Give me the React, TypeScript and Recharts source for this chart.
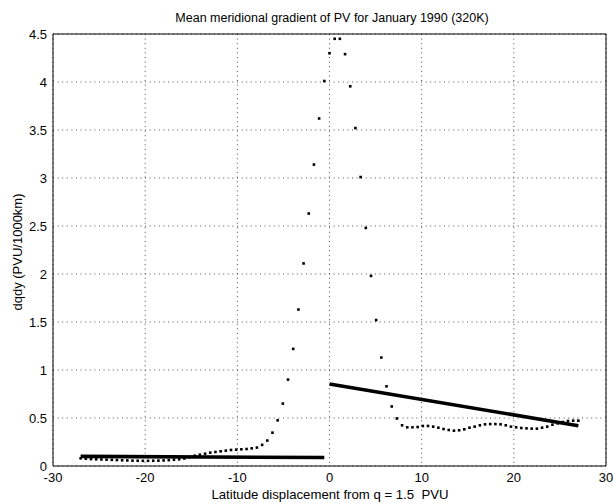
import React from 'react';
import { ScatterChart, Scatter, XAxis, YAxis, CartesianGrid } from 'recharts';

// Latitude grid (deg) and mean dq/dy (PVU/1000km) dotted series
const latitudes: number[] = [
  -27, -26.4375, -25.875, -25.3125, -24.75, -24.1875, -23.625, -23.0625, -22.5, -21.9375,
  -21.375, -20.8125, -20.25, -19.6875, -19.125, -18.5625, -18, -17.4375, -16.875, -16.3125,
  -15.75, -15.1875, -14.625, -14.0625, -13.5, -12.9375, -12.375, -11.8125, -11.25, -10.6875,
  -10.125, -9.5625, -9, -8.4375, -7.875, -7.3125, -6.75, -6.1875, -5.625, -5.0625,
  -4.5, -3.9375, -3.375, -2.8125, -2.25, -1.6875, -1.125, -0.5625, 0, 0.5625,
  1.125, 1.6875, 2.25, 2.8125, 3.375, 3.9375, 4.5, 5.0625, 5.625, 6.1875,
  6.75, 7.3125, 7.875, 8.4375, 9, 9.5625, 10.125, 10.6875, 11.25, 11.8125,
  12.375, 12.9375, 13.5, 14.0625, 14.625, 15.1875, 15.75, 16.3125, 16.875, 17.4375,
  18, 18.5625, 19.125, 19.6875, 20.25, 20.8125, 21.375, 21.9375, 22.5, 23.0625,
  23.625, 24.1875, 24.75, 25.3125, 25.875, 26.4375, 27,
];
const dqdy: number[] = [
  0.080, 0.076, 0.072, 0.070, 0.068, 0.066, 0.064, 0.062, 0.060, 0.058,
  0.056, 0.055, 0.054, 0.054, 0.055, 0.056, 0.058, 0.061, 0.065, 0.070,
  0.078, 0.092, 0.107, 0.118, 0.128, 0.139, 0.146, 0.153, 0.160, 0.167,
  0.170, 0.174, 0.177, 0.184, 0.192, 0.220, 0.265, 0.347, 0.476, 0.650,
  0.900, 1.220, 1.630, 2.110, 2.630, 3.140, 3.620, 4.010, 4.300, 4.450,
  4.450, 4.290, 3.955, 3.520, 3.010, 2.480, 1.980, 1.520, 1.130, 0.830,
  0.620, 0.495, 0.424, 0.403, 0.403, 0.406, 0.417, 0.417, 0.410, 0.399,
  0.385, 0.375, 0.368, 0.372, 0.382, 0.399, 0.410, 0.424, 0.434, 0.437,
  0.437, 0.434, 0.424, 0.410, 0.403, 0.396, 0.392, 0.389, 0.389, 0.399,
  0.410, 0.430, 0.444, 0.458, 0.469, 0.472, 0.472,
];

// Fitted solid lines: equatorward (left) and poleward (right) segments
const leftFitX: number[] = [-27, -0.5625];
const leftFitY: number[] = [0.1, 0.088];
const rightFitX: number[] = [0, 27];
const rightFitY: number[] = [0.855, 0.42];

const xTicks: number[] = [-30, -20, -10, 0, 10, 20, 30];
const yTicks: number[] = [0, 0.5, 1, 1.5, 2, 2.5, 3, 3.5, 4, 4.5];

const titleText = 'Mean meridional gradient of PV for January 1990 (320K)';
const xLabelText = 'Latitude displacement from q = 1.5  PVU';
const yLabelText = 'dqdy (PVU/1000km)';

const dots = latitudes.map((x, i) => ({ x, y: dqdy[i] }));
const leftFit = leftFitX.map((x, i) => ({ x, y: leftFitY[i] }));
const rightFit = rightFitX.map((x, i) => ({ x, y: rightFitY[i] }));

const FONT = '"Liberation Sans", Arial, Helvetica, sans-serif';

const DotShape = (props: any) => {
  const { cx, cy } = props;
  if (cx == null || cy == null) return <g />;
  return <rect x={cx - 1.3} y={cy - 1.3} width={2.6} height={2.6} fill="#000" />;
};
const NoShape = () => <g />;

const W = 613;
const H = 504;

export default function App() {
  return (
    <div style={{ position: 'absolute', left: 0, top: 0, width: W, height: H, background: '#fff' }}>
      <ScatterChart
        width={W}
        height={H}
        margin={{ top: 34, right: 7, bottom: 0, left: 0 }}
        style={{ fontFamily: FONT }}
      >
        <CartesianGrid stroke="#222" strokeWidth={0.8} strokeDasharray="1 3.6" />
        <XAxis
          dataKey="x"
          type="number"
          domain={[-30, 30]}
          ticks={xTicks}
          interval={0}
          height={38}
          tickSize={0}
          tickMargin={7}
          tickLine={false}
          axisLine={{ stroke: '#000', strokeWidth: 1 }}
          tick={{ fill: '#000', fontSize: 13, fontFamily: FONT }}
          allowDataOverflow
        />
        <YAxis
          dataKey="y"
          type="number"
          domain={[0, 4.5]}
          ticks={yTicks}
          interval={0}
          width={53}
          tickSize={0}
          tickMargin={6}
          tickLine={false}
          axisLine={{ stroke: '#000', strokeWidth: 1 }}
          tick={{ fill: '#000', fontSize: 13, fontFamily: FONT }}
          allowDataOverflow
        />
        <XAxis
          xAxisId="top"
          orientation="top"
          type="number"
          domain={[-30, 30]}
          ticks={xTicks}
          interval={0}
          mirror
          tick={false}
          tickSize={5}
          tickLine={{ stroke: '#000' }}
          axisLine={{ stroke: '#000', strokeWidth: 1 }}
          allowDataOverflow
        />
        <XAxis
          xAxisId="bottomIn"
          orientation="bottom"
          type="number"
          domain={[-30, 30]}
          ticks={xTicks}
          interval={0}
          mirror
          tick={false}
          tickSize={5}
          tickLine={{ stroke: '#000' }}
          axisLine={false}
          allowDataOverflow
        />
        <YAxis
          yAxisId="right"
          orientation="right"
          type="number"
          domain={[0, 4.5]}
          ticks={yTicks}
          interval={0}
          mirror
          tick={false}
          tickSize={5}
          tickLine={{ stroke: '#000' }}
          axisLine={{ stroke: '#000', strokeWidth: 1 }}
          allowDataOverflow
        />
        <YAxis
          yAxisId="leftIn"
          orientation="left"
          type="number"
          domain={[0, 4.5]}
          ticks={yTicks}
          interval={0}
          mirror
          tick={false}
          tickSize={5}
          tickLine={{ stroke: '#000' }}
          axisLine={false}
          allowDataOverflow
        />
        <Scatter data={dots} fill="#000" shape={DotShape} isAnimationActive={false} />
        <Scatter
          data={leftFit}
          fill="#000"
          shape={NoShape}
          line={{ stroke: '#000', strokeWidth: 3.6 }}
          isAnimationActive={false}
        />
        <Scatter
          data={rightFit}
          fill="#000"
          shape={NoShape}
          line={{ stroke: '#000', strokeWidth: 3.6 }}
          isAnimationActive={false}
        />
      </ScatterChart>
      <svg
        width={W}
        height={H}
        style={{ position: 'absolute', left: 0, top: 0, pointerEvents: 'none' }}
      >
        <text x={332} y={22} textAnchor="middle" fontSize={12.5} fontFamily={FONT} fill="#000">
          {titleText}
        </text>
        <text
          x={330}
          y={499}
          textAnchor="middle"
          fontSize={13.2}
          fontFamily={FONT}
          fill="#000"
          xmlSpace="preserve"
          style={{ whiteSpace: 'pre' }}
        >
          {xLabelText}
        </text>
        <text
          x={22}
          y={252}
          textAnchor="middle"
          fontSize={13}
          fontFamily={FONT}
          fill="#000"
          transform="rotate(-90 22 252)"
        >
          {yLabelText}
        </text>
      </svg>
    </div>
  );
}
